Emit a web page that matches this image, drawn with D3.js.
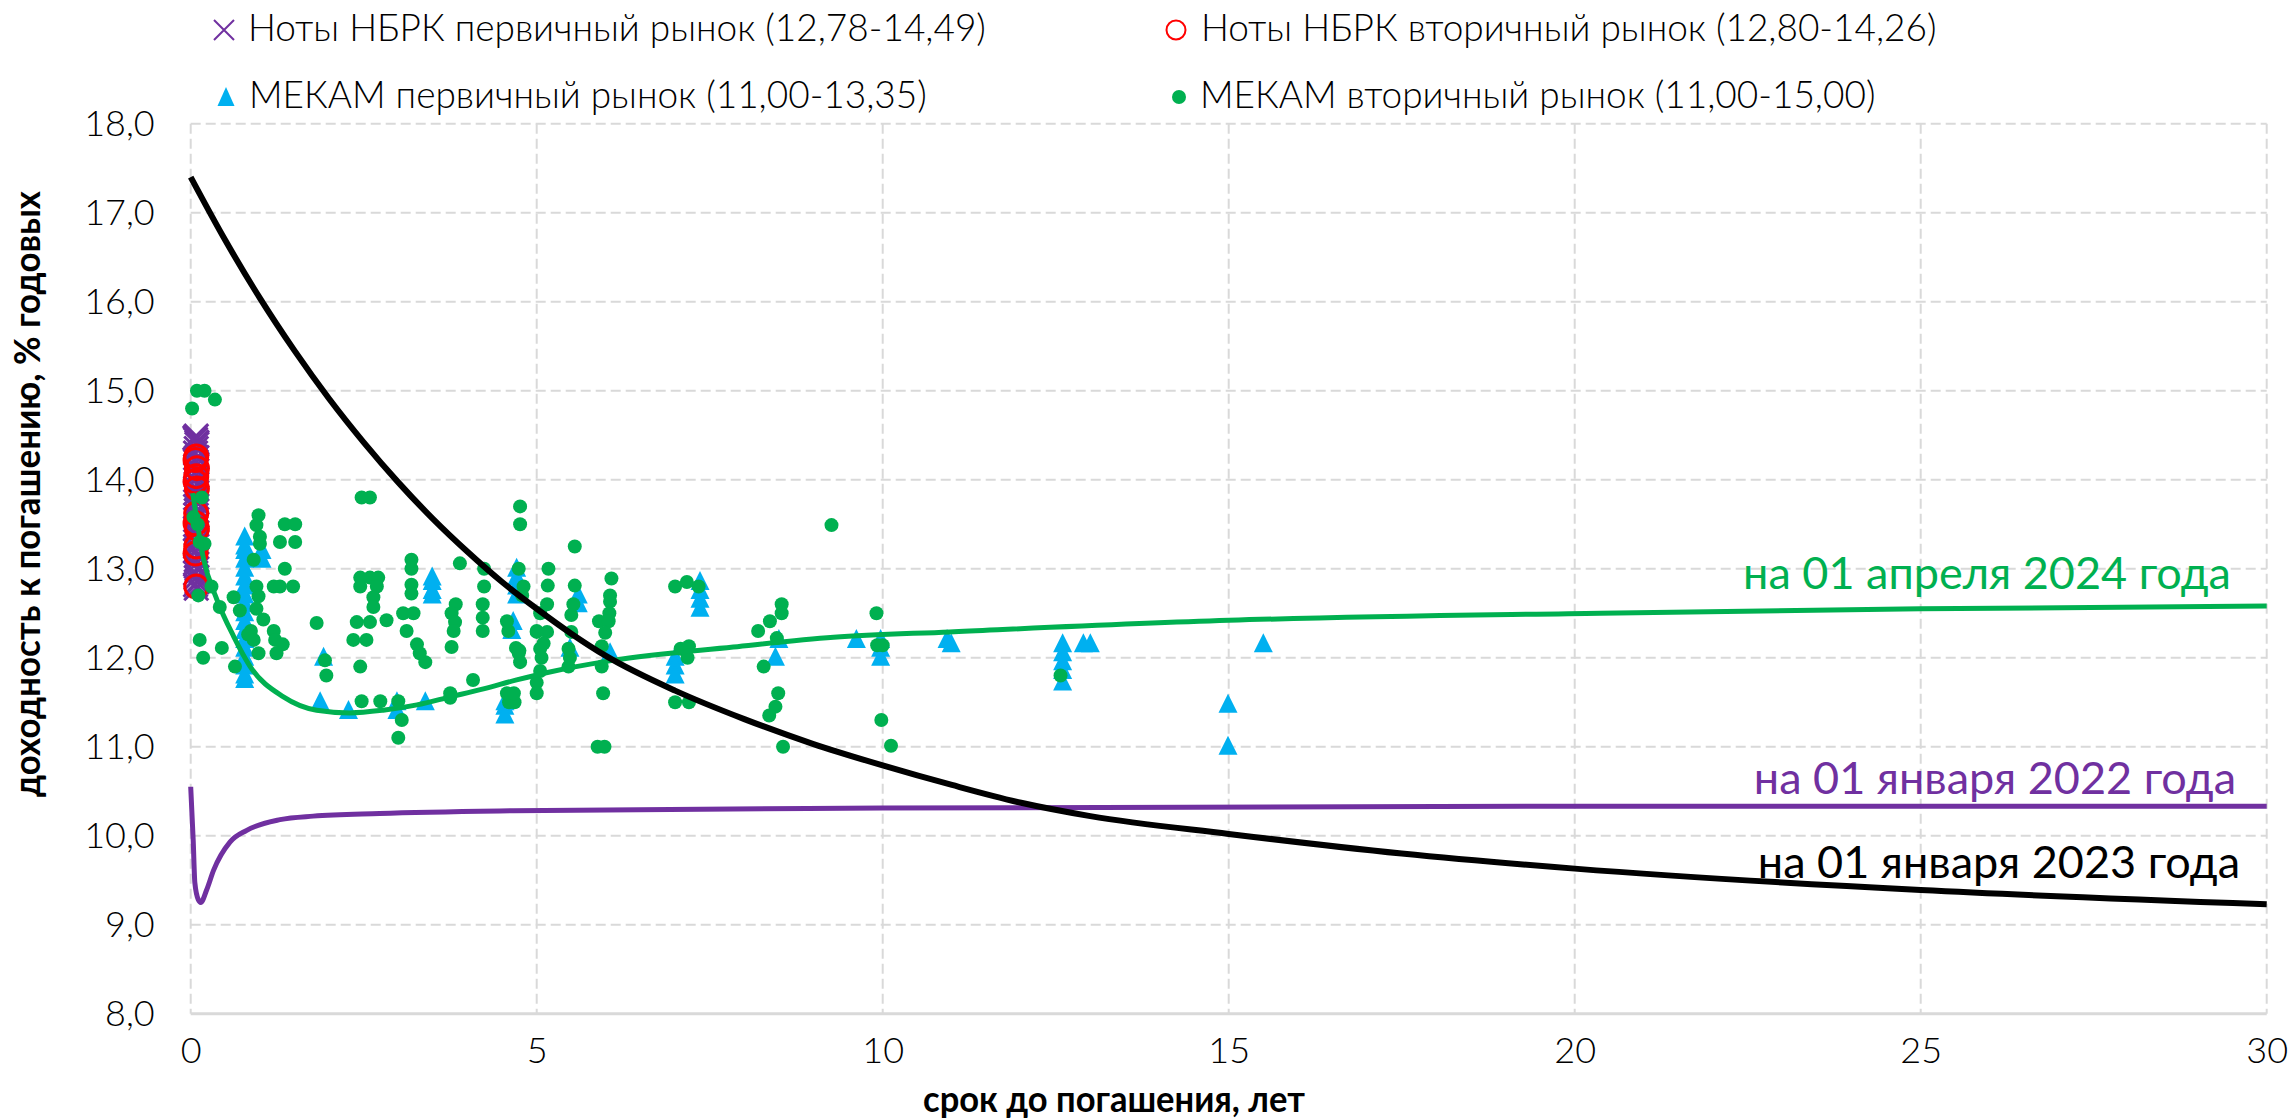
<!DOCTYPE html>
<html>
<head>
<meta charset="utf-8">
<script src="https://cdn.jsdelivr.net/npm/d3@7"></script>
<style>
  body { margin: 0; background: #fff; }
  svg { display: block; }
  text { font-family: Lato, "Noto Sans", sans-serif; }
</style>
</head>
<body>
<svg id="chart" width="2295" height="1119"></svg>
<script>
var width = 2295, height = 1119;
var plot = { left: 190.7, right: 2266.7, top: 123.7, bottom: 1013.7 };

// tick values
var xTicks = [0, 5, 10, 15, 20, 25, 30];
var yTicks = [8, 9, 10, 11, 12, 13, 14, 15, 16, 17, 18];

// legend / annotation texts
var legendLabels = [
  "Ноты НБРК первичный рынок (12,78-14,49)",
  "Ноты НБРК вторичный рынок (12,80-14,26)",
  "МЕКАМ первичный рынок (11,00-13,35)",
  "МЕКАМ вторичный рынок (11,00-15,00)"
];
var curveLabels = ["на 01 апреля 2024 года", "на 01 января 2022 года", "на 01 января 2023 года"];

// Ноты НБРК первичный рынок  [срок, доходность]
var nbrkPrimary = [
  [0.08,14.49],[0.06,14.47],[0.07,14.45],[0.09,14.42],[0.09,14.40],[0.08,14.35],[0.07,14.30],
  [0.09,14.25],[0.08,14.20],[0.07,14.15],[0.09,14.10],[0.08,14.05],[0.07,14.00],[0.09,13.95],
  [0.08,13.90],[0.07,13.85],[0.09,13.80],[0.08,13.75],[0.07,13.70],[0.09,13.65],[0.08,13.60],
  [0.07,13.55],[0.09,13.50],[0.07,13.45],[0.08,13.40],[0.09,13.35],[0.09,13.30],[0.07,13.25],
  [0.07,13.20],[0.09,13.15],[0.08,13.10],[0.07,13.05],[0.09,13.00],[0.07,12.95],[0.08,12.90],
  [0.09,12.85],[0.07,12.82],[0.08,12.78]
];

// Ноты НБРК вторичный рынок
var nbrkSecondary = [
  [0.08,14.26],[0.07,14.22],[0.09,14.13],[0.08,14.04],[0.07,13.98],[0.09,13.90],
  [0.08,13.62],[0.07,13.51],[0.09,13.45],[0.08,13.25],[0.07,13.17],[0.08,12.80]
];

// МЕКАМ первичный рынок
var mekamPrimary = [
  [0.78,13.35],[0.78,13.25],[0.78,13.20],[0.78,13.10],[0.78,13.00],[0.78,12.90],[0.78,12.80],
  [0.78,12.70],[0.78,12.60],[0.78,12.50],[0.78,12.40],[0.78,12.30],[0.78,12.20],[0.78,12.10],
  [0.78,12.00],[0.78,11.90],[0.78,11.80],[0.78,11.75],
  [1.03,13.20],[1.03,13.10],[1.92,12.00],[1.87,11.50],[2.28,11.40],[2.98,11.50],[2.98,11.40],
  [3.39,11.50],[3.49,12.90],[3.49,12.85],[3.49,12.75],[3.49,12.70],
  [4.71,13.00],[4.71,12.90],[4.71,12.80],[4.71,12.70],[4.64,12.30],[4.66,12.40],
  [4.54,11.50],[4.54,11.45],[4.54,11.35],
  [5.60,12.70],[5.60,12.60],[5.48,12.10],[6.06,12.05],
  [7.36,12.85],[7.36,12.75],[7.36,12.65],[7.36,12.55],[7.00,12.00],[7.00,11.90],[7.00,11.80],
  [8.50,12.20],[8.45,12.00],[9.62,12.20],[9.97,12.20],[9.97,12.10],[9.97,12.00],
  [10.93,12.20],[10.99,12.15],
  [12.60,12.15],[12.60,12.05],[12.60,11.95],[12.60,11.85],[12.60,11.72],[12.90,12.15],[13.00,12.15],
  [14.99,11.47],[14.99,11.00],[15.50,12.15]
];

// МЕКАМ вторичный рынок
var mekamSecondary = [
  [0.09,15.00],[0.20,15.00],[0.35,14.90],[0.02,14.80],[0.16,13.80],[0.04,13.58],[0.10,13.50],
  [0.13,13.30],[0.20,13.28],[0.11,12.70],[0.30,12.80],[0.42,12.57],[0.62,12.68],[0.71,12.53],
  [0.13,12.20],[0.18,12.00],[0.45,12.11],[0.64,11.90],
  [0.98,13.60],[0.95,13.49],[1.00,13.36],[1.00,13.28],[0.91,13.10],[0.95,12.80],[0.98,12.69],
  [0.95,12.55],[1.05,12.43],[0.87,12.30],[0.83,12.26],[0.91,12.20],[0.98,12.05],[1.20,12.30],
  [1.22,12.20],[1.33,12.15],[1.24,12.05],[1.36,13.50],[1.51,13.50],[1.29,13.30],[1.51,13.30],
  [1.36,13.00],[1.20,12.80],[1.29,12.80],[1.48,12.80],
  [1.82,12.39],[1.94,11.97],[1.96,11.80],[2.47,13.80],[2.59,13.80],[2.45,12.90],[2.59,12.90],
  [2.71,12.90],[2.45,12.80],[2.69,12.80],[2.64,12.68],[2.64,12.57],[2.40,12.40],[2.59,12.40],
  [2.83,12.42],[2.35,12.20],[2.54,12.20],[2.45,11.90],[2.47,11.51],[2.74,11.51],[3.00,11.51],
  [3.05,11.30],[3.00,11.10],[3.19,13.10],[3.19,13.00],[3.19,12.82],[3.19,12.72],[3.07,12.50],
  [3.22,12.50],[3.12,12.30],[3.27,12.15],[3.31,12.05],[3.39,11.95],
  [3.89,13.06],[3.83,12.60],[3.77,12.50],[3.82,12.40],[3.80,12.30],[3.77,12.12],[3.75,11.60],
  [3.75,11.55],[4.08,11.75],[4.24,13.00],[4.24,12.80],[4.22,12.60],[4.22,12.45],[4.22,12.30],
  [4.59,12.30],[4.76,13.70],[4.76,13.50],[4.74,13.00],[4.81,12.80],[4.79,12.70],[4.74,12.05],
  [4.76,11.95],[4.60,11.50],[4.68,11.50],[5.00,11.60],[5.00,12.30],
  [5.55,13.25],[5.17,13.00],[5.16,12.81],[5.55,12.81],[5.15,12.60],[5.53,12.60],[5.05,12.50],
  [4.57,12.41],[5.00,12.29],[5.15,12.29],[5.10,12.16],[5.50,12.48],[5.50,12.29],[4.70,12.11],
  [4.75,12.08],[5.05,12.10],[5.07,12.00],[5.05,11.85],[5.00,11.72],[5.46,12.10],[5.48,12.00],
  [5.46,11.90],[4.57,11.60],[4.67,11.60],
  [6.08,12.89],[6.06,12.70],[6.06,12.63],[6.05,12.50],[5.90,12.41],[6.04,12.41],[5.99,12.28],
  [5.94,12.13],[5.94,11.90],[5.96,11.60],[5.88,11.00],[5.98,11.00],
  [7.00,12.80],[7.17,12.85],[7.34,12.80],[7.08,12.10],[7.20,12.13],[7.18,12.00],[7.00,11.50],[7.20,11.50],
  [8.54,12.60],[8.54,12.50],[8.37,12.41],[8.20,12.30],[8.47,12.22],[8.28,11.90],[8.49,11.60],
  [8.45,11.45],[8.36,11.35],[8.56,11.00],
  [9.26,13.49],[9.91,12.50],[9.92,12.14],[10.00,12.14],[9.98,11.30],[10.12,11.01],[12.57,11.80]
];

// кривые доходности
var curve2024 = [
  [0.03,13.85],[0.18,13.13],[0.38,12.65],[0.62,12.24],[0.86,11.90],[1.34,11.56],[1.82,11.41],
  [2.30,11.38],[2.78,11.41],[3.27,11.47],[3.75,11.56],[4.23,11.65],[4.71,11.75],[5.19,11.84],
  [6.10,11.97],[7.84,12.12],[9.29,12.23],[10.97,12.29],[15,12.42],[20.37,12.50],[25,12.55],[30,12.58]
];
var curve2022 = [
  [0.00,10.55],[0.036,9.95],[0.06,9.47],[0.11,9.28],[0.145,9.25],[0.23,9.39],[0.33,9.61],
  [0.57,9.93],[0.81,10.06],[1.29,10.18],[1.77,10.22],[2.73,10.25],[4.66,10.28],[10,10.31],
  [20,10.33],[30,10.33]
];
var curve2023 = [
  [0,17.40],[0.5,16.69],[1,16.04],[1.5,15.45],[2,14.91],[2.5,14.42],[3,13.97],[3.5,13.56],
  [4,13.19],[4.5,12.85],[5,12.55],[5.5,12.27],[6,12.02],[7,11.63],[8,11.31],[9,11.03],
  [10,10.79],[11,10.57],[12,10.37],[13,10.22],[15,10.02],[17.5,9.80],[20,9.63],[25,9.39],[30,9.23]
];

var purple = "#7030A0", red = "#FF0000", blue = "#00B0F0", green = "#00B050", grid = "#D9D9D9";

var svg = d3.select("#chart");
var x = d3.scaleLinear().domain([0, 30]).range([plot.left, plot.right]);
var y = d3.scaleLinear().domain([8, 18]).range([plot.bottom, plot.top]);

// grid
svg.append("g").selectAll("line").data(yTicks.slice(1)).enter().append("line")
  .attr("x1", plot.left).attr("x2", plot.right)
  .attr("y1", function(d) { return y(d); }).attr("y2", function(d) { return y(d); })
  .attr("stroke", grid).attr("stroke-width", 2).attr("stroke-dasharray", "10,5");
svg.append("g").selectAll("line").data(xTicks).enter().append("line")
  .attr("x1", function(d) { return x(d); }).attr("x2", function(d) { return x(d); })
  .attr("y1", plot.top).attr("y2", plot.bottom)
  .attr("stroke", grid).attr("stroke-width", 2).attr("stroke-dasharray", "10,5");
svg.append("line")
  .attr("x1", plot.left).attr("x2", plot.right).attr("y1", plot.bottom).attr("y2", plot.bottom)
  .attr("stroke", grid).attr("stroke-width", 3);

// axes
var fmt = function(d) { return d.toFixed(1).replace(".", ","); };
var yAxis = svg.append("g")
  .attr("transform", "translate(" + plot.left + ",0)")
  .call(d3.axisLeft(y).tickValues(yTicks).tickFormat(fmt).tickSize(0).tickPadding(36));
var xAxis = svg.append("g")
  .attr("transform", "translate(0," + plot.bottom + ")")
  .call(d3.axisBottom(x).tickValues(xTicks).tickSize(0).tickPadding(24));
[yAxis, xAxis].forEach(function(a) {
  a.select(".domain").remove();
  a.selectAll("text").attr("font-family", "Lato, sans-serif").attr("font-weight", 300)
    .attr("font-size", 36).attr("fill", "#000");
});

// axis titles
svg.append("text")
  .attr("transform", "translate(40,494) rotate(-90)")
  .attr("text-anchor", "middle")
  .attr("font-family", "'Liberation Sans Narrow', 'Arial Narrow', Roboto, sans-serif")
  .attr("font-weight", 700).attr("font-size", 36)
  .attr("textLength", 606).attr("lengthAdjust", "spacingAndGlyphs")
  .text("доходность к погашению, % годовых");
svg.append("text")
  .attr("x", 1114).attr("y", 1112)
  .attr("text-anchor", "middle")
  .attr("font-family", "'Liberation Sans Narrow', 'Arial Narrow', Roboto, sans-serif")
  .attr("font-weight", 700).attr("font-size", 36)
  .attr("textLength", 382).attr("lengthAdjust", "spacingAndGlyphs")
  .text("срок до погашения, лет");

// markers
var triPath = "M0,-11 L9.5,8 L-9.5,8 Z";
var xPath = "M-12,-12 L12,12 M-12,12 L12,-12";

var gMarks = svg.append("g");
gMarks.selectAll(".np").data(nbrkPrimary).enter().append("path")
  .attr("class", "np").attr("d", xPath)
  .attr("transform", function(d) { return "translate(" + x(d[0]) + "," + y(d[1]) + ")"; })
  .attr("stroke", purple).attr("stroke-width", 3).attr("fill", "none");
gMarks.selectAll(".ns").data(nbrkSecondary).enter().append("circle")
  .attr("class", "ns").attr("cx", function(d) { return x(d[0]); }).attr("cy", function(d) { return y(d[1]); })
  .attr("r", 11.5).attr("stroke", red).attr("stroke-width", 3).attr("fill", "none");
gMarks.selectAll(".mp").data(mekamPrimary).enter().append("path")
  .attr("class", "mp").attr("d", triPath)
  .attr("transform", function(d) { return "translate(" + x(d[0]) + "," + y(d[1]) + ")"; })
  .attr("fill", blue);
gMarks.selectAll(".ms").data(mekamSecondary).enter().append("circle")
  .attr("class", "ms").attr("cx", function(d) { return x(d[0]); }).attr("cy", function(d) { return y(d[1]); })
  .attr("r", 7).attr("fill", green);

// curves
var line = d3.line()
  .x(function(d) { return x(d[0]); })
  .y(function(d) { return y(d[1]); })
  .curve(d3.curveMonotoneX);
svg.append("path").datum(curve2024).attr("d", line).attr("fill", "none").attr("stroke", green).attr("stroke-width", 5);
svg.append("path").datum(curve2022).attr("d", line).attr("fill", "none").attr("stroke", purple).attr("stroke-width", 5);
svg.append("path").datum(curve2023).attr("d", line).attr("fill", "none").attr("stroke", "#000").attr("stroke-width", 6);

// curve labels
var labelStyle = [
  { color: green, x: 2231, y: 589 },
  { color: purple, x: 2236, y: 794 },
  { color: "#000", x: 2240, y: 878 }
];
svg.append("g").selectAll("text").data(curveLabels).enter().append("text")
  .attr("x", function(d, i) { return labelStyle[i].x; })
  .attr("y", function(d, i) { return labelStyle[i].y; })
  .attr("text-anchor", "end")
  .attr("font-size", 45).attr("font-weight", 400)
  .attr("fill", function(d, i) { return labelStyle[i].color; })
  .text(function(d) { return d; });

// legend
var legendPos = [
  { tx: 248, ty: 41 },
  { tx: 1201, ty: 41 },
  { tx: 249, ty: 108 },
  { tx: 1200, ty: 108 }
];
var lg = svg.append("g");
lg.append("path").attr("d", "M-10,-10 L10,10 M-10,10 L10,-10")
  .attr("transform", "translate(224,30)").attr("stroke", purple).attr("stroke-width", 2).attr("fill", "none");
lg.append("circle").attr("cx", 1176).attr("cy", 30).attr("r", 9.5)
  .attr("stroke", red).attr("stroke-width", 2).attr("fill", "none");
lg.append("path").attr("d", "M0,-10 L8.5,9 L-8.5,9 Z").attr("transform", "translate(226,97)").attr("fill", blue);
lg.append("circle").attr("cx", 1179).attr("cy", 97).attr("r", 7).attr("fill", green);
lg.selectAll("text").data(legendLabels).enter().append("text")
  .attr("x", function(d, i) { return legendPos[i].tx; })
  .attr("y", function(d, i) { return legendPos[i].ty; })
  .attr("font-size", 37).attr("font-weight", 300).attr("fill", "#000")
  .text(function(d) { return d; });
</script>
</body>
</html>
